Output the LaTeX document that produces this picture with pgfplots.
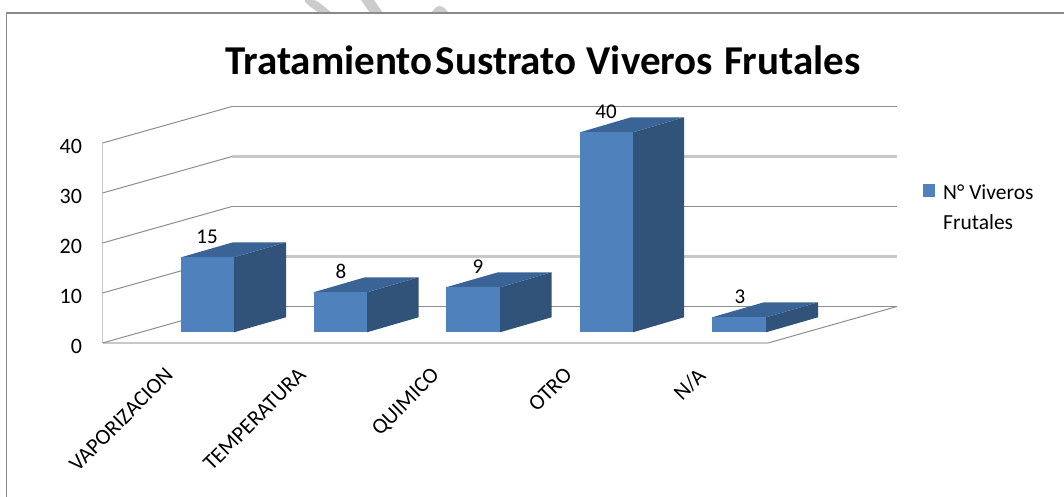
\documentclass[border=0pt]{standalone}
\usepackage{pgfplots}
\pgfplotsset{compat=1.18}
\usepackage{fontspec}
\setmainfont{Carlito}
\definecolor{barfront}{HTML}{4F81BD}
\definecolor{barside}{HTML}{325379}
\definecolor{bartop}{HTML}{3A6396}
\definecolor{griddark}{HTML}{8E8E8E}
\definecolor{gridlight}{HTML}{C8C8C8}
\definecolor{framec}{HTML}{8A8A8A}
\begin{document}
\begin{tikzpicture}[x=1pt,y=1pt]
\useasboundingbox (0,0) rectangle (1064,497);
\fill[white] (0,0) rectangle (1064,497);
% watermark fragments
\fill[gray!40,rounded corners=3pt] (303,497) -- (316,497) -- (332,484) -- (319,484) -- (308,492) -- cycle;
\fill[gray!40] (361,497) -- (374,497) -- (383,484) -- (370,484) -- cycle;
\fill[gray!40,rounded corners=2pt] (431,484) -- (437,491) -- (442,491) -- (449,484) -- cycle;
% chart frame: top and left only
\draw[framec,line width=1.3pt] (6.3,0) -- (6.3,484) -- (1064,484);
% back walls, gridlines, value axis, category axis
\begin{axis}[
  at={(102.5pt,154pt)}, anchor=south west, scale only axis,
  width=665.5pt, height=200pt,
  xmin=102.5, xmax=768, ymin=0, ymax=40,
  clip=false,
  axis x line=bottom, axis y line=left,
  axis line style={gridlight,line width=1.6pt,-},
  major tick length=0pt,
  ytick={0,10,20,30,40},
  xtick={207,340,473,606,739},
  xticklabels={VAPORIZACION,TEMPERATURA,QUIMICO,OTRO,N/A},
  /pgf/number format/assume math mode=true,
  yticklabel style={font=\fontsize{22}{22}\selectfont,anchor=east,xshift=-17pt,yshift=-3.5pt,text=black},
  xticklabel style={font=\fontsize{22}{22}\selectfont,rotate=45,anchor=north east,xshift=-46.6pt,yshift=14pt,text=black,inner sep=0pt},
]
\addplot[griddark,line width=0.9pt] coordinates {(232,47.3)(897,47.3)};
\addplot[gridlight,line width=2.2pt] coordinates {(232,37.3)(897,37.3)};
\addplot[griddark,line width=0.9pt] coordinates {(232,27.3)(897,27.3)};
\addplot[gridlight,line width=2.2pt] coordinates {(232,17.3)(897,17.3)};
\addplot[griddark,line width=0.9pt] coordinates {(232,7.3)(897,7.3)};
\addplot[griddark,line width=1pt] coordinates {(102.5,40)(232,47.3)};
\addplot[griddark,line width=1pt] coordinates {(102.5,30)(232,37.3)};
\addplot[griddark,line width=1pt] coordinates {(102.5,20)(232,27.3)};
\addplot[griddark,line width=1pt] coordinates {(102.5,10)(232,17.3)};
\addplot[griddark,line width=1pt] coordinates {(102.5,0)(232,7.3)};
\addplot[griddark,line width=1pt] coordinates {(768,0)(897,7.3)};
\end{axis}
% bars: y is the value itself
\begin{axis}[
  at={(0pt,0pt)}, anchor=south west, scale only axis,
  width=1064pt, height=497pt,
  xmin=0, xmax=1064, ymin=-32.94, ymax=66.46,
  hide axis, clip=false,
]
% VAPORIZACION 15
\addplot[draw=none,fill=barside] coordinates {(234,0)(286,3)(286,18)(234,15)} --cycle;
\addplot[draw=none,fill=bartop] coordinates {(181,15)(234,15)(286,18)(233,18)} --cycle;
\addplot[draw=none,fill=barfront] coordinates {(181,0)(234,0)(234,15)(181,15)} --cycle;
\node[font=\fontsize{21}{21}\selectfont] at (axis cs:207,19.1) {15};
% TEMPERATURA 8
\addplot[draw=none,fill=barside] coordinates {(367,0)(418.5,3)(418.5,11)(367,8)} --cycle;
\addplot[draw=none,fill=bartop] coordinates {(313.5,8)(367,8)(418.5,11)(365,11)} --cycle;
\addplot[draw=none,fill=barfront] coordinates {(313.5,0)(367,0)(367,8)(313.5,8)} --cycle;
\node[font=\fontsize{21}{21}\selectfont] at (axis cs:341,12.1) {8};
% QUIMICO 9
\addplot[draw=none,fill=barside] coordinates {(500,0)(551.5,3)(551.5,12)(500,9)} --cycle;
\addplot[draw=none,fill=bartop] coordinates {(446,9)(500,9)(551.5,12)(498,12)} --cycle;
\addplot[draw=none,fill=barfront] coordinates {(446,0)(500,0)(500,9)(446,9)} --cycle;
\node[font=\fontsize{21}{21}\selectfont] at (axis cs:478,13.1) {9};
% OTRO 40
\addplot[draw=none,fill=barside] coordinates {(633,0)(684,3)(684,43)(633,40)} --cycle;
\addplot[draw=none,fill=bartop] coordinates {(580,40)(633,40)(684,43)(631,43)} --cycle;
\addplot[draw=none,fill=barfront] coordinates {(580,0)(633,0)(633,40)(580,40)} --cycle;
\node[font=\fontsize{21}{21}\selectfont] at (axis cs:606,44.1) {40};
% N/A 3
\addplot[draw=none,fill=barside] coordinates {(766,0)(818,3)(818,6)(766,3)} --cycle;
\addplot[draw=none,fill=bartop] coordinates {(712,3)(766,3)(818,6)(764,6)} --cycle;
\addplot[draw=none,fill=barfront] coordinates {(712,0)(766,0)(766,3)(712,3)} --cycle;
\node[font=\fontsize{21}{21}\selectfont] at (axis cs:740,7.1) {3};
\end{axis}
% title and legend
\node[font=\fontsize{41}{41}\selectfont\bfseries,anchor=center] at (543,437) {Tratamiento\hspace{3pt}Sustrato\hspace{10pt}Viveros\hspace{11pt}Frutales};
\fill[barfront] (923,300) rectangle (935,313);
\node[font=\fontsize{21.5}{21.5}\selectfont,anchor=west,inner sep=0pt] at (943,305) {N° Viveros};
\node[font=\fontsize{21.5}{21.5}\selectfont,anchor=west,inner sep=0pt] at (943,275) {Frutales};
\end{tikzpicture}
\end{document}
